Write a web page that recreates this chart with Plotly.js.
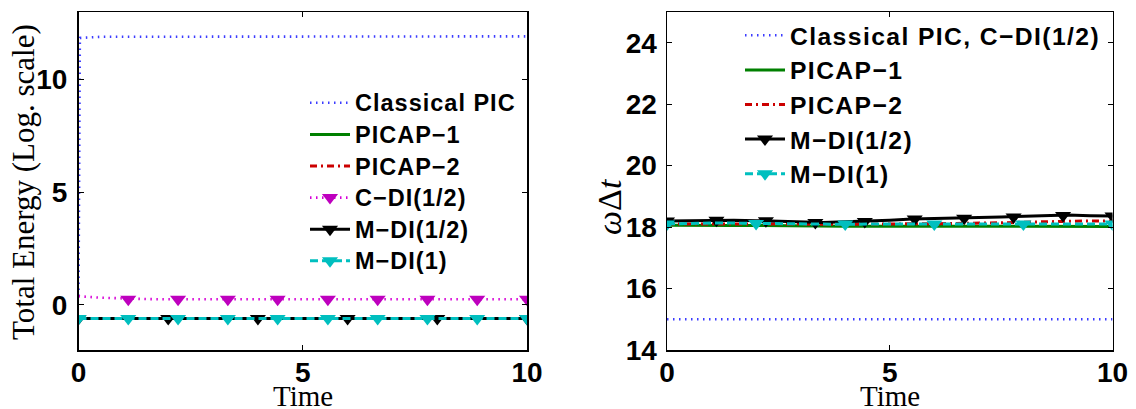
<!DOCTYPE html>
<html><head><meta charset="utf-8">
<script src="https://cdn.plot.ly/plotly-3.0.1.min.js"></script>
<style>
html,body{margin:0;padding:0;background:#fff;}
#chart{width:1136px;height:409px;}
</style></head><body><div id="chart"></div>
<script>
// ---------- data: left panel (Total Energy, log scale) ----------
const timeL = [0, 0.03, 0.5, 1, 1.5, 2, 2.5, 3, 3.5, 4, 4.5, 5, 5.5, 6, 6.5, 7, 7.5, 8, 8.5, 9, 9.5, 10];
const classicalL = [0.4, 11.85, 11.9, 11.9, 11.9, 11.9, 11.9, 11.9, 11.9, 11.9, 11.9, 11.9, 11.9, 11.9, 11.9, 11.9, 11.9, 11.9, 11.9, 11.91, 11.92, 11.92];
const picap1L = [-0.6, -0.6, -0.6, -0.6, -0.6, -0.6, -0.6, -0.6, -0.6, -0.6, -0.6, -0.6, -0.6, -0.6, -0.6, -0.6, -0.6, -0.6, -0.6, -0.6, -0.6, -0.6];
const picap2L = [-0.6, -0.6, -0.6, -0.6, -0.6, -0.6, -0.6, -0.6, -0.6, -0.6, -0.6, -0.6, -0.6, -0.6, -0.6, -0.6, -0.6, -0.6, -0.6, -0.6, -0.6, -0.6];
const cdiL = [0.4, 0.38, 0.32, 0.28, 0.26, 0.25, 0.25, 0.25, 0.25, 0.25, 0.25, 0.25, 0.25, 0.25, 0.25, 0.25, 0.25, 0.25, 0.25, 0.25, 0.25, 0.25];
const mdiHalfL = [-0.6, -0.6, -0.6, -0.6, -0.6, -0.6, -0.6, -0.6, -0.6, -0.6, -0.6, -0.6, -0.6, -0.6, -0.6, -0.6, -0.6, -0.6, -0.6, -0.6, -0.6, -0.6];
const mdiOneL = [-0.6, -0.6, -0.6, -0.6, -0.6, -0.6, -0.6, -0.6, -0.6, -0.6, -0.6, -0.6, -0.6, -0.6, -0.6, -0.6, -0.6, -0.6, -0.6, -0.6, -0.6, -0.6];
const cdiMarkT = [1.11, 2.22, 3.33, 4.44, 5.56, 6.67, 7.78, 8.89, 10];
const cdiMarkV = [0.25, 0.25, 0.25, 0.25, 0.25, 0.25, 0.25, 0.25, 0.25];
const mdiHalfMarkTL = [0, 2, 4, 6, 8, 10];
const mdiHalfMarkVL = [-0.6, -0.6, -0.6, -0.6, -0.6, -0.6];
const mdiOneMarkTL = [0, 1.11, 2.22, 3.33, 4.44, 5.56, 6.67, 7.78, 8.89, 10];
const mdiOneMarkVL = [-0.6, -0.6, -0.6, -0.6, -0.6, -0.6, -0.6, -0.6, -0.6, -0.6];

// ---------- data: right panel (omega * dt) ----------
const timeR = [0, 0.5, 1, 1.5, 2, 2.5, 3, 3.5, 4, 4.5, 5, 5.5, 6, 6.5, 7, 7.5, 8, 8.5, 9, 9.5, 10];
const classicalR = [15, 15, 15, 15, 15, 15, 15, 15, 15, 15, 15, 15, 15, 15, 15, 15, 15, 15, 15, 15, 15];
const picap1R = [18.06, 18.05, 18.05, 18.05, 18.05, 18.04, 18.04, 18.04, 18.03, 18.03, 18.03, 18.02, 18.02, 18.02, 18.02, 18.02, 18.02, 18.02, 18.02, 18.02, 18.02];
const picap2R = [18.1, 18.1, 18.12, 18.12, 18.12, 18.11, 18.1, 18.09, 18.09, 18.1, 18.1, 18.1, 18.11, 18.12, 18.12, 18.14, 18.16, 18.18, 18.2, 18.2, 18.2];
const mdiHalfR = [18.2, 18.21, 18.22, 18.22, 18.21, 18.19, 18.15, 18.15, 18.17, 18.19, 18.22, 18.26, 18.27, 18.29, 18.31, 18.33, 18.35, 18.37, 18.39, 18.37, 18.36];
const mdiOneR = [18.1, 18.12, 18.13, 18.13, 18.12, 18.11, 18.1, 18.09, 18.09, 18.1, 18.1, 18.1, 18.09, 18.09, 18.1, 18.1, 18.1, 18.1, 18.09, 18.09, 18.1];
const mdiHalfMarkTR = [0, 1.11, 2.22, 3.33, 4.44, 5.56, 6.67, 7.78, 8.89, 10];
const mdiHalfMarkVR = [18.2, 18.22, 18.21, 18.15, 18.18, 18.26, 18.29, 18.33, 18.38, 18.36];
const mdiOneMarkTR = [0, 2, 4, 6, 8, 10];
const mdiOneMarkVR = [18.1, 18.12, 18.1, 18.1, 18.1, 18.1];

// ---------- labels ----------
const namesL = ['Classical PIC', 'PICAP\u22121', 'PICAP\u22122', 'C\u2212DI(1/2)', 'M\u2212DI(1/2)', 'M\u2212DI(1)'];
const namesR = ['Classical PIC, C\u2212DI(1/2)', 'PICAP\u22121', 'PICAP\u22122', 'M\u2212DI(1/2)', 'M\u2212DI(1)'];
const xTicks = [0, 5, 10];
const yTicksL = [0, 5, 10];
const yTicksR = [14, 16, 18, 20, 22, 24];

// ---------- styles ----------
const BLUE = 'rgb(60,60,255)', GREEN = 'rgb(0,128,0)', RED = 'rgb(204,0,0)';
const MAG = 'rgb(215,0,215)', MAGM = 'rgb(190,0,190)', CYAN = 'rgb(0,191,191)', BLACK = '#000';
const DOT = '1.5px,4.5px', DASHDOT = '7px,4px,2px,4px', DASH = '8px,4px';
const MS = 14;
const spanL = s => '<span style="font-size:23.5px;letter-spacing:1px">' + s + '</span>';
const spanR = s => '<span style="font-size:24.7px;letter-spacing:1.4px">' + s + '</span>';

function lineTr(x, y, name, color, width, dash, xa, ya, leg, show) {
  return {type:'scatter', mode:'lines', x:x, y:y, name:name, xaxis:xa, yaxis:ya,
    line:{color:color, width:width, dash:dash}, showlegend:show, legend:leg, hoverinfo:'skip'};
}
function markTr(x, y, color, xa, ya) {
  return {type:'scatter', mode:'markers', x:x, y:y, xaxis:xa, yaxis:ya, showlegend:false,
    marker:{symbol:'triangle-down', size:MS, color:color, line:{width:0}}, hoverinfo:'skip'};
}
function legTr(name, lcolor, width, dash, mcolor, xa, ya, leg) {
  return {type:'scatter', mode:'lines+markers', x:[null], y:[null], name:name, xaxis:xa, yaxis:ya,
    line:{color:lcolor, width:width, dash:dash},
    marker:{symbol:'triangle-down', size:MS, color:mcolor, line:{width:0}},
    showlegend:true, legend:leg, hoverinfo:'skip'};
}

const traces = [
  // left
  lineTr(timeL, classicalL, spanL(namesL[0]), BLUE, 2.6, DOT, 'x', 'y', 'legend', true),
  lineTr(timeL, picap1L, spanL(namesL[1]), GREEN, 3, 'solid', 'x', 'y', 'legend', true),
  lineTr(timeL, picap2L, spanL(namesL[2]), RED, 3, DASHDOT, 'x', 'y', 'legend', true),
  lineTr(timeL, cdiL, namesL[3], MAG, 2.6, DOT, 'x', 'y', 'legend', false),
  markTr(cdiMarkT, cdiMarkV, MAGM, 'x', 'y'),
  legTr(spanL(namesL[3]), MAG, 2.6, DOT, MAGM, 'x', 'y', 'legend'),
  lineTr(timeL, mdiHalfL, namesL[4], BLACK, 3, 'solid', 'x', 'y', 'legend', false),
  markTr(mdiHalfMarkTL, mdiHalfMarkVL, BLACK, 'x', 'y'),
  legTr(spanL(namesL[4]), BLACK, 3, 'solid', BLACK, 'x', 'y', 'legend'),
  lineTr(timeL, mdiOneL, namesL[5], CYAN, 3, DASH, 'x', 'y', 'legend', false),
  markTr(mdiOneMarkTL, mdiOneMarkVL, CYAN, 'x', 'y'),
  legTr(spanL(namesL[5]), CYAN, 3, DASH, CYAN, 'x', 'y', 'legend'),
  // right
  lineTr(timeR, classicalR, spanR(namesR[0]), BLUE, 2.6, DOT, 'x2', 'y2', 'legend2', true),
  lineTr(timeR, picap1R, spanR(namesR[1]), GREEN, 3, 'solid', 'x2', 'y2', 'legend2', true),
  lineTr(timeR, picap2R, spanR(namesR[2]), RED, 3, DASHDOT, 'x2', 'y2', 'legend2', true),
  lineTr(timeR, mdiHalfR, namesR[3], BLACK, 3, 'solid', 'x2', 'y2', 'legend2', false),
  markTr(mdiHalfMarkTR, mdiHalfMarkVR, BLACK, 'x2', 'y2'),
  legTr(spanR(namesR[3]), BLACK, 3, 'solid', BLACK, 'x2', 'y2', 'legend2'),
  lineTr(timeR, mdiOneR, namesR[4], CYAN, 3, DASH, 'x2', 'y2', 'legend2', false),
  markTr(mdiOneMarkTR, mdiOneMarkVR, CYAN, 'x2', 'y2'),
  legTr(spanR(namesR[4]), CYAN, 3, DASH, CYAN, 'x2', 'y2', 'legend2')
];

const W = 1136, TOP = 12, BOT = 350, PH = BOT - TOP;
const py = p => (BOT - p) / PH;   // pixel row -> paper y
const px = p => p / W;            // pixel column -> paper x

const tickFont = {family:'Liberation Sans, Arial, sans-serif', size:28, weight:'bold', color:'#000'};
function ax(extra) {
  return Object.assign({
    showline:true, linecolor:'#000', linewidth:1.5, mirror:'allticks',
    ticks:'inside', ticklen:5, tickwidth:1, tickcolor:'#000',
    showgrid:false, zeroline:false, tickfont:tickFont, fixedrange:true
  }, extra);
}
const legFont = {family:'Liberation Sans, Arial, sans-serif', weight:'bold', color:'#000'};
const serif = 'Liberation Serif, Times New Roman, serif';

const layout = {
  width:1136, height:409, margin:{l:0, r:0, t:TOP, b:409 - BOT},
  paper_bgcolor:'#fff', plot_bgcolor:'#fff', showlegend:true,
  xaxis: ax({domain:[px(78.5), px(527)], range:[0, 10], tickvals:xTicks, ticklabelstandoff:-3, anchor:'y'}),
  yaxis: ax({domain:[0, 1], range:[-2, 13], tickvals:yTicksL, ticklabelstandoff:4, anchor:'x'}),
  xaxis2: ax({domain:[px(667), px(1112.5)], range:[0, 10], tickvals:xTicks, ticklabelstandoff:-3, anchor:'y2'}),
  yaxis2: ax({domain:[0, 1], range:[14, 25], tickvals:yTicksR, ticklabelstandoff:3, anchor:'x2'}),
  legend: {x:px(305), xanchor:'left', y:py(82), yanchor:'top', bgcolor:'rgba(0,0,0,0)', borderwidth:0,
    font:Object.assign({size:22}, legFont), itemwidth:40, tracegroupgap:0},
  legend2: {x:px(740), xanchor:'left', y:py(13), yanchor:'top', bgcolor:'rgba(0,0,0,0)', borderwidth:0,
    font:Object.assign({size:24.3}, legFont), itemwidth:40, tracegroupgap:0},
  annotations: [
    {text:'Time', xref:'paper', yref:'paper', x:(px(78.5)+px(527))/2, y:py(396), xanchor:'center', yanchor:'middle',
      showarrow:false, font:{family:serif, size:29, color:'#000'}},
    {text:'Time', xref:'paper', yref:'paper', x:(px(667)+px(1112.5))/2, y:py(396), xanchor:'center', yanchor:'middle',
      showarrow:false, font:{family:serif, size:29, color:'#000'}},
    {text:'Total Energy (Log. scale)', xref:'paper', yref:'paper', x:px(23), y:py(182), xanchor:'center', yanchor:'middle',
      textangle:-90, showarrow:false, font:{family:serif, size:31, color:'#000'}},
    {text:'<i>ω</i>Δ<i>t</i>', xref:'paper', yref:'paper', x:px(610), y:py(207), xanchor:'center', yanchor:'middle',
      textangle:-90, showarrow:false, font:{family:serif, size:34, color:'#000'}}
  ]
};

Plotly.newPlot('chart', traces, layout, {staticPlot:true, displayModeBar:false});
</script></body></html>
